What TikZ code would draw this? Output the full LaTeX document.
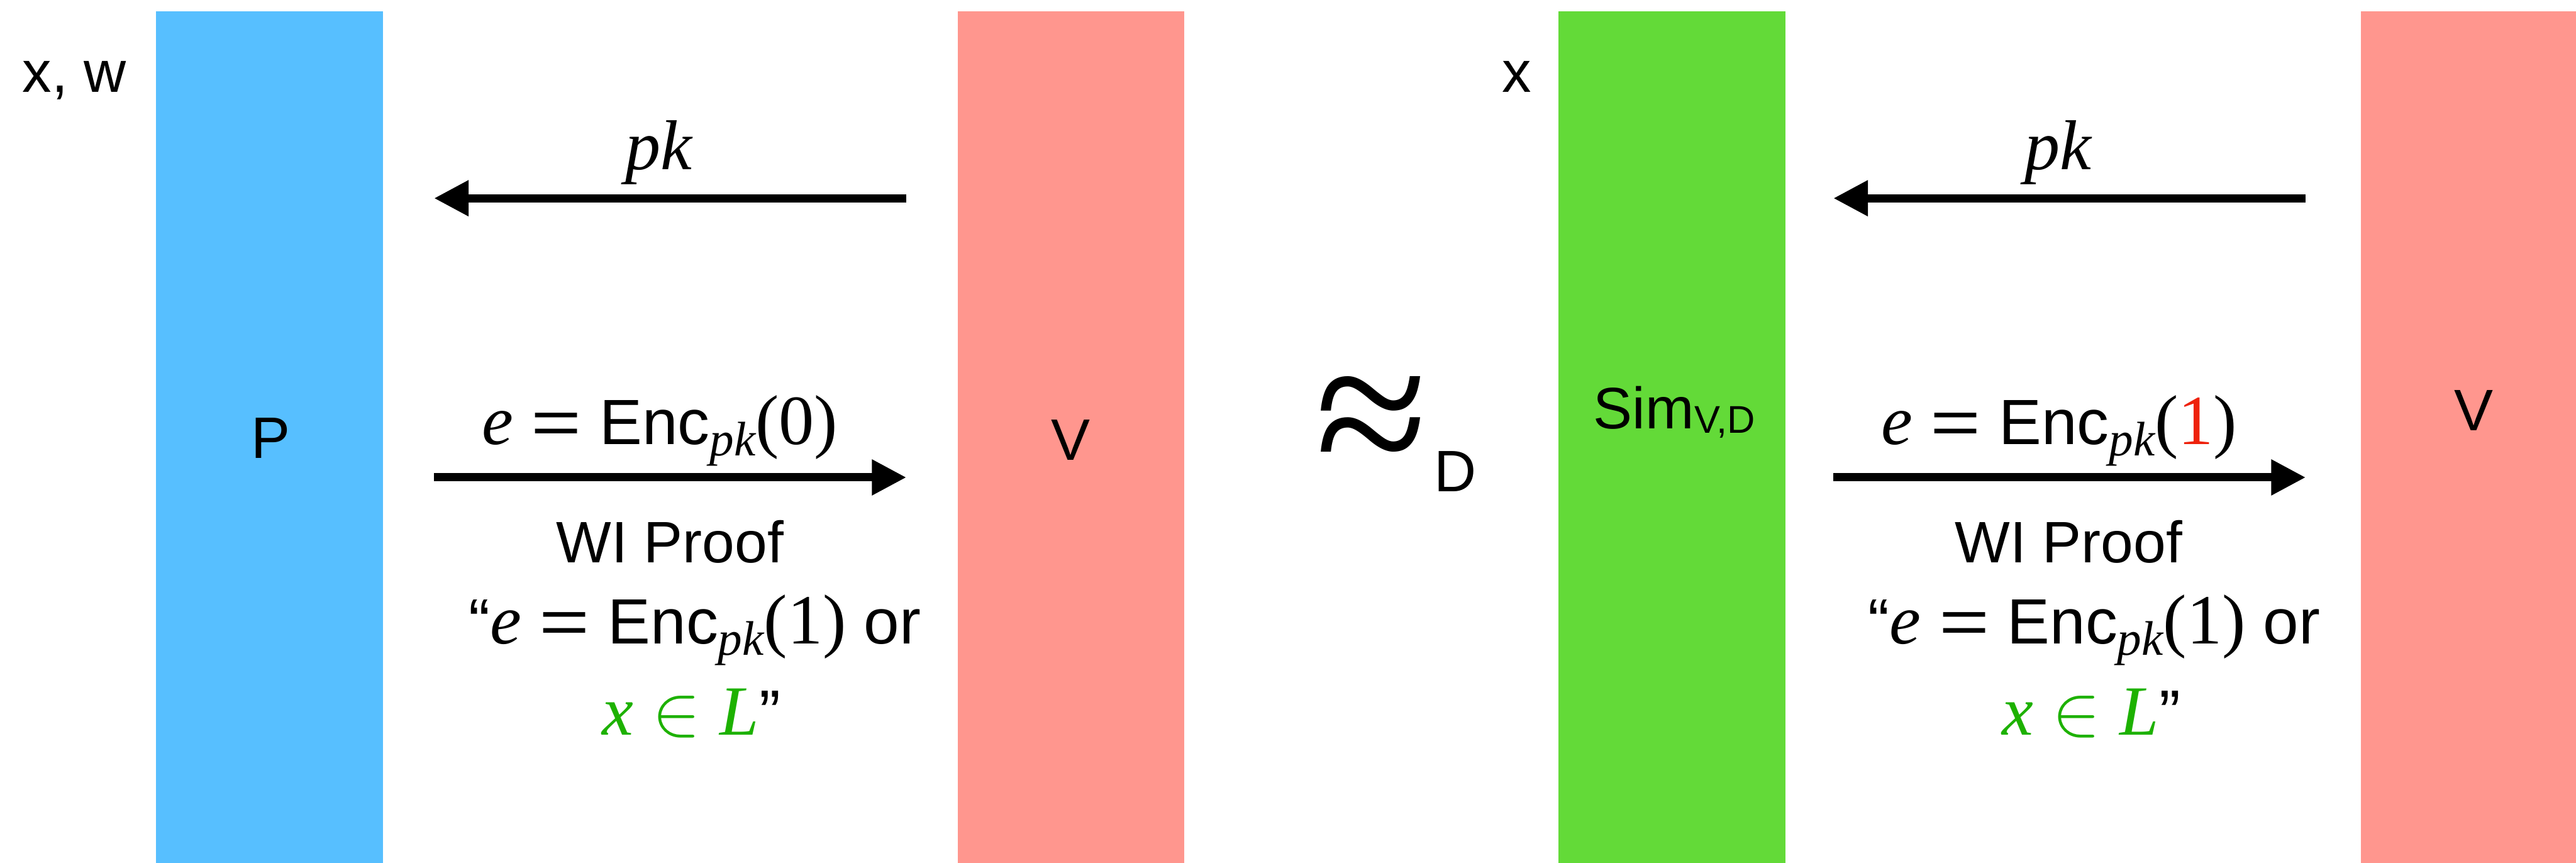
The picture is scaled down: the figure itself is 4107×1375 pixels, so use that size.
\documentclass[tikz,border=0pt]{standalone}
\usepackage{fontspec}
\setmainfont{Liberation Sans}
\newfontfamily\tms{Liberation Serif}
\usetikzlibrary{arrows.meta}
\definecolor{pblue}{RGB}{87,191,255}
\definecolor{vred}{RGB}{255,150,142}
\definecolor{sgreen}{RGB}{99,218,56}
\definecolor{lgreen}{RGB}{29,177,0}
\definecolor{onered}{RGB}{238,34,12}
\newcommand\mi[1]{{\tms\itshape\fontsize{32}{32}\selectfont #1}}
\newcommand\mr[1]{{\tms\fontsize{32}{32}\selectfont #1}}
\newcommand\pksub{\raisebox{-0.18cm}{\tms\itshape\fontsize{22}{22}\selectfont pk}}
\newcommand\eqsign{\hspace{0.28em}\scalebox{1.35}[1]{=}\hspace{0.28em}}
\newcommand\inrel{\hspace{0.3em}\resizebox{!}{0.62cm}{$\in$}\hspace{0.3em}}
\tikzset{
  bar/.style={rectangle, inner sep=0pt, outer sep=0pt, anchor=north west, minimum width=3.61cm, minimum height=13.62cm},
  lbl/.style={inner sep=0pt, anchor=base, font=\fontsize{26.5}{30}\selectfont},
  eqn/.style={inner sep=0pt, anchor=base, font=\fontsize{29}{32}\selectfont},
  msg/.style={line width=0.13cm, -{Triangle[length=0.55cm,width=0.54cm]}},
}
\begin{document}
\begin{tikzpicture}[x=0.01cm,y=-0.01cm]
\useasboundingbox (0,0) rectangle (4107,1375);
% parties
\node[bar, fill=pblue] (P) at (249,18) {};
\node[bar, fill=vred] (V1) at (1527,18) {};
\node[bar, fill=sgreen] (S) at (2485,18) {};
\node[bar, fill=vred] (V2) at (3764,18) {};
% labels
\node[lbl, anchor=base west] (xw) at (35,147) {x, w};
\node[lbl] (x2) at (2418,147) {x};
\node[lbl] (Plbl) at (432,730) {P};
\node[lbl] (V1lbl) at (1707,733) {V};
\node[lbl] (V2lbl) at (3944,686) {V};
\node[lbl, anchor=base west] (Slbl) at (2540,683) {Sim\raisebox{-0.07cm}{\fontsize{17.5}{18}\selectfont V,D}};
% approx
\node[inner sep=0pt, anchor=base] (approx) at (2187,769) {\tms\fontsize{93}{93}\selectfont ≈};
\node[lbl] (Dlbl) at (2320,784) {D};
% left protocol
\coordinate (a1s) at (1445,316);
\coordinate (a1e) at (692,316);
\coordinate (a2s) at (692,761);
\coordinate (a2e) at (1445,761);
\draw[msg] (a1s) -- (a1e);
\draw[msg] (a2s) -- (a2e);
\node[inner sep=0pt, anchor=base] (pk1) at (1050,270) {\mi{pk}};
\node[eqn] (enc0) at (1052,708) {\mi{e}\eqsign Enc\pksub\mr{(0)}};
\node[lbl] (wi1) at (1068,897) {WI Proof};
\node[eqn] (st1) at (1108,1026) {“\mi{e}\eqsign Enc\pksub\mr{(1)} or};
\node[eqn] (st1b) at (1102,1172) {{\color{lgreen}\mi{x}\inrel\mi{L}}”};
% right protocol
\coordinate (b1s) at (3676,316);
\coordinate (b1e) at (2923,316);
\coordinate (b2s) at (2923,761);
\coordinate (b2e) at (3676,761);
\draw[msg] (b1s) -- (b1e);
\draw[msg] (b2s) -- (b2e);
\node[inner sep=0pt, anchor=base] (pk2) at (3281,270) {\mi{pk}};
\node[eqn] (enc1) at (3283,708) {\mi{e}\eqsign Enc\pksub\mr{(}{\color{onered}\mr{1}}\mr{)}};
\node[lbl] (wi2) at (3298,897) {WI Proof};
\node[eqn] (st2) at (3339,1026) {“\mi{e}\eqsign Enc\pksub\mr{(1)} or};
\node[eqn] (st2b) at (3334,1172) {{\color{lgreen}\mi{x}\inrel\mi{L}}”};
\end{tikzpicture}
\end{document}
